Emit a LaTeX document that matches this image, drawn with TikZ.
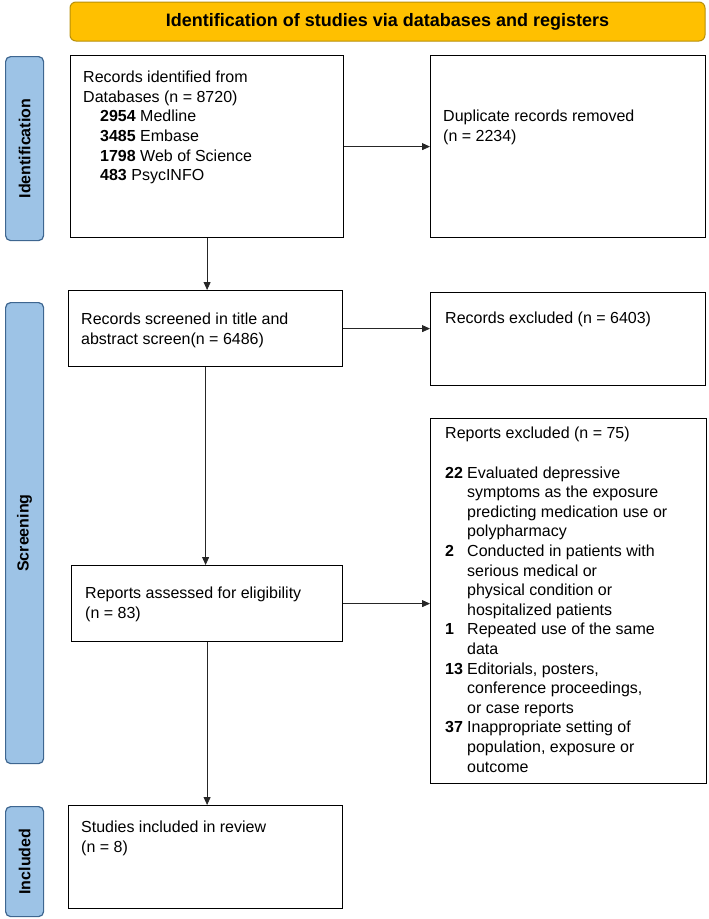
\documentclass[tikz,border=0pt]{standalone}
\usepackage{fontspec}
\setmainfont{Liberation Sans}
\usetikzlibrary{arrows.meta}
\definecolor{hdrfill}{HTML}{FFC000}
\definecolor{hdrline}{HTML}{B8900A}
\definecolor{barfill}{HTML}{9DC3E6}
\definecolor{barline}{HTML}{3E6690}

\begin{document}
\begin{tikzpicture}[x=1pt,y=-1pt,>={Triangle[length=8pt,width=7pt]},
  box/.style={draw,line width=1.2pt,anchor=north west,inner sep=0pt},
  txt/.style={anchor=north west,align=left,inner sep=0pt,
    font=\fontsize{16}{19.6}\selectfont},
  bar/.style={draw=barline,fill=barfill,line width=1.2pt,rounded corners=5pt,
    anchor=north west,inner sep=0pt,minimum width=38pt},
  side/.style={rotate=90,font=\fontsize{16}{18}\selectfont\bfseries},
  arr/.style={->,line width=0.8pt,draw=black!85}]
  \useasboundingbox (0,0) rectangle (709,919);

  % header and phase bars
  \node[draw=hdrline,fill=hdrfill,line width=1pt,rounded corners=6pt,
    minimum width=635pt,minimum height=39pt,
    font=\fontsize{18}{20}\selectfont\bfseries] (hdr) at (387.5,21.5)
    {Identification of studies via databases and registers};
  \node[bar,minimum height=184pt] (idbar) at (5,56) {};
  \node[side] (idlab) at (idbar.center) {Identification};
  \node[bar,minimum height=461pt] (scbar) at (5,302) {};
  \node[side] (sclab) at (scbar.center) {Screening};
  \node[bar,minimum height=110pt] (inbar) at (5,806) {};
  \node[side] (inlab) at (inbar.center) {Included};

  % boxes
  \node[box,minimum width=273pt,minimum height=182pt] (rec) at (70,55) {};
  \node[box,minimum width=275pt,minimum height=182pt] (dup) at (430,55) {};
  \node[box,minimum width=274pt,minimum height=76pt] (scr) at (68,290) {};
  \node[box,minimum width=275pt,minimum height=93pt] (exc) at (430,292) {};
  \node[box,minimum width=276pt,minimum height=365pt] (rex) at (430,418) {};
  \node[box,minimum width=271pt,minimum height=76pt] (ass) at (71,565) {};
  \node[box,minimum width=274pt,minimum height=103pt] (stu) at (68,805) {};

  % texts
  \node[txt] (rectxt) at (83,71) {Records identified from\\Databases (n = 8720)\\
    \hspace*{17pt}\textbf{2954} Medline\\
    \hspace*{17pt}\textbf{3485} Embase\\
    \hspace*{17pt}\textbf{1798} Web of Science\\
    \hspace*{17pt}\textbf{483} PsycINFO};
  \node[txt] (duptxt) at (443,110) {Duplicate records removed\\(n = 2234)};
  \node[txt] (scrtxt) at (81,313) {Records screened in title and\\abstract screen(n = 6486)};
  \node[txt] (exctxt) at (445,312) {Records excluded (n = 6403)};
  \node[txt] (rextxt) at (445,427) {Reports excluded (n = 75)\\[19.6pt]
    \makebox[22pt][l]{\textbf{22}}Evaluated depressive\\
    \hspace*{22pt}symptoms as the exposure\\
    \hspace*{22pt}predicting medication use or\\
    \hspace*{22pt}polypharmacy\\
    \makebox[22pt][l]{\textbf{2}}Conducted in patients with\\
    \hspace*{22pt}serious medical or\\
    \hspace*{22pt}physical condition or\\
    \hspace*{22pt}hospitalized patients\\
    \makebox[22pt][l]{\textbf{1}}Repeated use of the same\\
    \hspace*{22pt}data\\
    \makebox[22pt][l]{\textbf{13}}Editorials, posters,\\
    \hspace*{22pt}conference proceedings,\\
    \hspace*{22pt}or case reports\\
    \makebox[22pt][l]{\textbf{37}}Inappropriate setting of\\
    \hspace*{22pt}population, exposure or\\
    \hspace*{22pt}outcome};
  \node[txt] (asstxt) at (85,587) {Reports assessed for eligibility\\(n = 83)};
  \node[txt] (stutxt) at (81,821) {Studies included in review\\(n = 8)};

  % connectors
  \draw[arr] (rec) -- (dup);
  \draw[arr] (rec.south) -- (rec.south |- scr.north);
  \draw[arr] (scr.east) -- (scr.east -| exc.west);
  \draw[arr] (scr.south) -- (scr.south |- ass.north);
  \draw[arr] (ass.east) -- (ass.east -| rex.west);
  \draw[arr] (ass.south) -- (ass.south |- stu.north);
\end{tikzpicture}
\end{document}
